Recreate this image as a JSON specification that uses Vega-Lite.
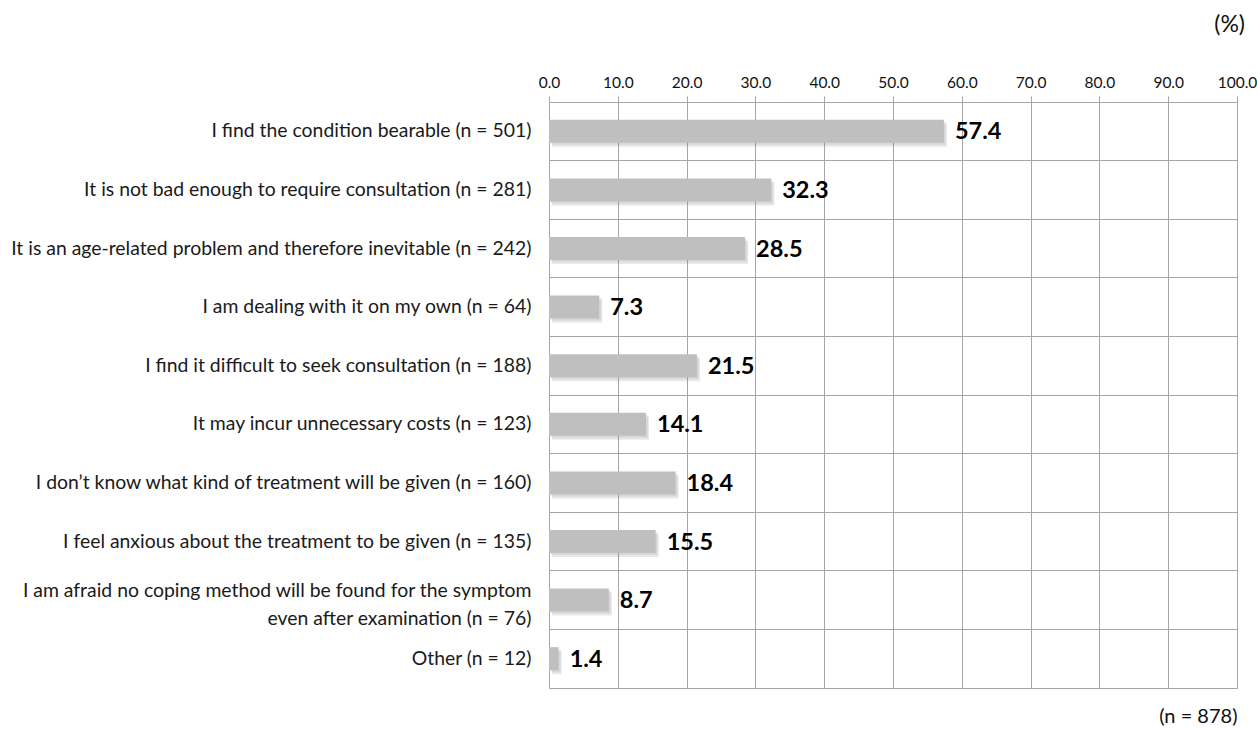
{
  "$schema": "https://vega.github.io/schema/vega-lite/v6.json",
  "autosize": "none",
  "width": 688,
  "height": 586,
  "padding": {"left": 549, "top": 102, "right": 20, "bottom": 42},
  "background": "white",
  "title": {
    "text": "(%)",
    "anchor": "end",
    "frame": "group",
    "dx": 8,
    "fontSize": 23,
    "fontWeight": "normal",
    "font": "Lato",
    "color": "#111",
    "offset": 38
  },
  "config": {
    "view": {"stroke": "#a6a6a6", "strokeWidth": 1},
    "font": "Lato"
  },
  "data": {
    "values": [
      {"reason": "I find the condition bearable (n = 501)", "pct": 57.4},
      {"reason": "It is not bad enough to require consultation (n = 281)", "pct": 32.3},
      {"reason": "It is an age-related problem and therefore inevitable (n = 242)", "pct": 28.5},
      {"reason": "I am dealing with it on my own (n = 64)", "pct": 7.3},
      {"reason": "I find it difficult to seek consultation (n = 188)", "pct": 21.5},
      {"reason": "It may incur unnecessary costs (n = 123)", "pct": 14.1},
      {"reason": "I don’t know what kind of treatment will be given (n = 160)", "pct": 18.4},
      {"reason": "I feel anxious about the treatment to be given (n = 135)", "pct": 15.5},
      {"reason": "I am afraid no coping method will be found for the symptom|even after examination (n = 76)", "pct": 8.7},
      {"reason": "Other (n = 12)", "pct": 1.4}
    ]
  },
  "encoding": {
    "y": {
      "field": "reason",
      "type": "nominal",
      "sort": null,
      "scale": {"paddingInner": 0, "paddingOuter": 0},
      "axis": {
        "title": null,
        "bandPosition": 0,
        "grid": true,
        "gridColor": "#a6a6a6",
        "gridWidth": 1,
        "domain": false,
        "ticks": false,
        "labelPadding": 18,
        "labelFontSize": 19.4,
        "labelFontWeight": "normal",
        "labelColor": "#1a1a1a",
        "labelLimit": 600,
        "labelLineHeight": 28,
        "labelOffset": {"condition": {"test": "indexof(datum.value, '|') >= 0", "value": -9}, "value": 0},
        "labelExpr": "split(datum.label, '|')"
      }
    }
  },
  "layer": [
    {
      "mark": {"type": "bar", "size": 23, "color": "#7f7f7f", "opacity": 0.18, "xOffset": 3, "yOffset": 4},
      "encoding": {
        "x": {
          "field": "pct",
          "type": "quantitative",
          "scale": {"domain": [0, 100], "nice": false},
          "axis": {
            "orient": "bottom",
            "title": "(n = 878)",
            "titleAnchor": "end",
            "titleFontSize": 20,
            "titleFontWeight": "normal",
            "titleColor": "#111",
            "titlePadding": 18,
            "labels": false,
            "ticks": false,
            "domain": false,
            "grid": false
          }
        }
      }
    },
    {
      "mark": {"type": "bar", "size": 23, "color": "#7f7f7f", "opacity": 0.15, "xOffset": 2, "yOffset": 2},
      "encoding": {
        "x": {"field": "pct", "type": "quantitative", "axis": null}
      }
    },
    {
      "mark": {"type": "bar", "size": 23, "color": "#bfbfbf"},
      "encoding": {
        "x": {
          "field": "pct",
          "type": "quantitative",
          "axis": {
            "orient": "top",
            "title": null,
            "values": [0, 10, 20, 30, 40, 50, 60, 70, 80, 90, 100],
            "format": ".1f",
            "grid": true,
            "gridColor": "#a6a6a6",
            "domainColor": "#a6a6a6",
            "tickColor": "#a6a6a6",
            "tickSize": 6,
            "labelPadding": 6,
            "labelFontSize": 15.5,
            "labelFontWeight": "normal",
            "labelColor": "#111",
            "labelFlush": false
          }
        }
      }
    },
    {
      "mark": {"type": "text", "align": "left", "baseline": "middle", "dx": 11, "dy": 1, "fontSize": 23.5, "fontWeight": "bold", "color": "#000"},
      "encoding": {
        "x": {"field": "pct", "type": "quantitative", "axis": null},
        "text": {"field": "pct", "type": "quantitative", "format": ".1f"}
      }
    }
  ]
}
